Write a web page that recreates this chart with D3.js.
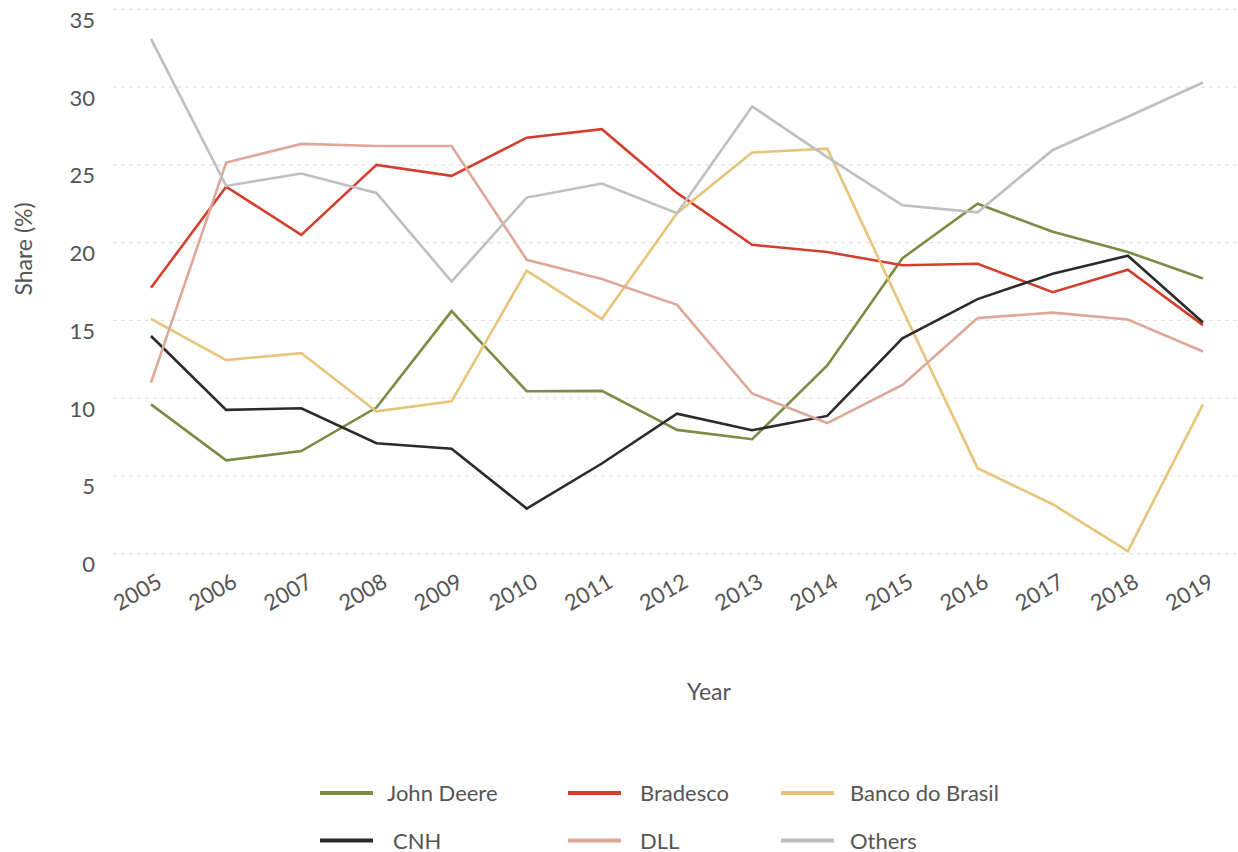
<!DOCTYPE html>
<html>
<head>
<meta charset="utf-8">
<script src="https://cdn.jsdelivr.net/npm/d3@7"></script>
<style>
  html, body { margin: 0; padding: 0; background: #fff; }
  svg { display: block; font-family: Lato, "Open Sans", sans-serif; }
</style>
</head>
<body>
<svg id="chart" width="1238" height="852"></svg>
<script>
const years = [2005,2006,2007,2008,2009,2010,2011,2012,2013,2014,2015,2016,2017,2018,2019];
const yTicks = [0,5,10,15,20,25,30,35];

const johnDeere    = [9.6, 6.0, 6.6, 9.4, 15.6, 10.45, 10.47, 7.96, 7.36, 12.1, 19.0, 22.5, 20.7, 19.4, 17.7];
const bradesco     = [17.1, 23.6, 20.5, 25.0, 24.3, 26.75, 27.3, 23.2, 19.86, 19.4, 18.55, 18.64, 16.82, 18.26, 14.7];
const bancoBrasil  = [15.1, 12.45, 12.9, 9.15, 9.8, 18.2, 15.1, 21.9, 25.8, 26.05, 15.7, 5.5, 3.18, 0.17, 9.6];
const cnh          = [14.0, 9.25, 9.35, 7.1, 6.75, 2.9, 5.8, 9.0, 7.94, 8.86, 13.85, 16.37, 18.0, 19.16, 14.87];
const dll          = [11.0, 25.15, 26.35, 26.22, 26.22, 18.9, 17.66, 16.0, 10.3, 8.4, 10.85, 15.15, 15.5, 15.06, 13.0];
const others       = [33.1, 23.65, 24.45, 23.2, 17.5, 22.9, 23.8, 21.9, 28.76, 25.5, 22.4, 21.95, 25.96, 28.1, 30.3];

const seriesNames  = ["John Deere", "Bradesco", "Banco do Brasil", "CNH", "DLL", "Others"];
const seriesValues = [johnDeere, bradesco, bancoBrasil, cnh, dll, others];
const seriesColors = ["#7b8c45", "#d33e2e", "#e8c47a", "#2b2b2b", "#dfa797", "#c0bfbf"];

const svg = d3.select("#chart");
const x = d3.scaleLinear().domain([2005, 2019]).range([151, 1203]);
const y = d3.scaleLinear().domain([0, 35]).range([553.7, 9.4]);

// gridlines
svg.append("g").selectAll("line").data(yTicks).join("line")
  .attr("x1", 113).attr("x2", 1238)
  .attr("y1", d => y(d)).attr("y2", d => y(d))
  .attr("stroke", "#e3e3e3").attr("stroke-width", 1.3)
  .attr("stroke-dasharray", "4,4");

// y axis labels
const yAxis = d3.axisLeft(y).tickValues(yTicks).tickSize(0).tickPadding(0);
const gy = svg.append("g").attr("transform", "translate(95,0)").call(yAxis);
gy.select(".domain").remove();
gy.selectAll("text")
  .attr("dy", "0.32em").attr("y", 11)
  .style("font-size", "22px").style("fill", "#555").style("font-family", "Lato, 'Open Sans', sans-serif");

// x axis labels
const xAxis = d3.axisBottom(x).tickValues(years).tickFormat(d3.format("d")).tickSize(0);
const gx = svg.append("g").attr("transform", "translate(0,586)").call(xAxis);
gx.select(".domain").remove();
gx.selectAll("text")
  .attr("y", 0).attr("dy", 0)
  .attr("text-anchor", "end")
  .attr("transform", "translate(12,0) rotate(-30)")
  .style("font-size", "22px").style("fill", "#555").style("font-family", "Lato, 'Open Sans', sans-serif");

// lines
const line = d3.line().x((d, i) => x(years[i])).y(d => y(d));
svg.append("g").selectAll("path").data(seriesValues).join("path")
  .attr("d", d => line(d))
  .attr("fill", "none")
  .attr("stroke", (d, i) => seriesColors[i])
  .attr("stroke-width", 2.6)
  .attr("stroke-linejoin", "miter");

// axis titles
svg.append("text").attr("transform", "translate(32,249) rotate(-90)")
  .attr("text-anchor", "middle").style("font-size", "23px").style("fill", "#555")
  .text("Share (%)");
svg.append("text").attr("x", 709).attr("y", 700)
  .attr("text-anchor", "middle").style("font-size", "23px").style("fill", "#555")
  .text("Year");

// legend
const colX = [320, 568, 781];
const textOff = [67, 72, 69];
const rowY = [793, 840.5];
const leg = svg.append("g").selectAll("g").data(seriesNames).join("g")
  .attr("transform", (d, i) => `translate(${colX[i % 3]},${rowY[Math.floor(i / 3)]})`);
leg.append("line").attr("x1", 0).attr("x2", 53).attr("y1", 0).attr("y2", 0)
  .attr("stroke", (d, i) => seriesColors[i]).attr("stroke-width", 4);
leg.append("text").attr("x", (d, i) => i === 3 ? 73 : textOff[i % 3]).attr("y", 8)
  .style("font-size", "22px").style("fill", "#555")
  .text(d => d);
</script>
</body>
</html>
